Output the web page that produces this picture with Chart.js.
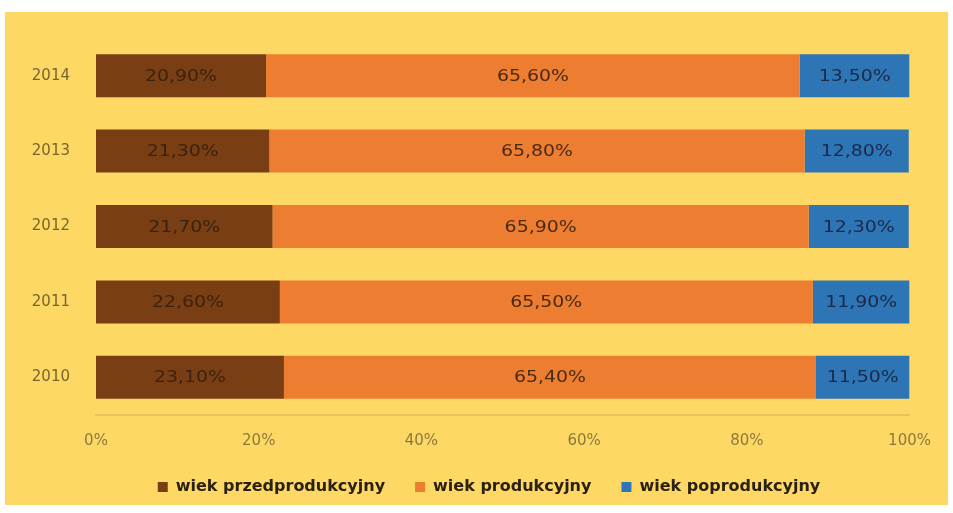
<!DOCTYPE html>
<html>
<head>
<meta charset="utf-8">
<script src="https://cdn.jsdelivr.net/npm/chart.js@4/dist/chart.umd.min.js"></script>
<style>
  body { margin: 0; background: #fff; }
  #outer { width: 953px; height: 513px; background: #fff; position: relative; }
  #panel { position: absolute; left: 5px; top: 12px; width: 943px; height: 493px; background: #fdd865; }
</style>
</head>
<body>
<div id="outer"><div id="panel"><canvas id="chart-area" width="943" height="493"></canvas></div></div>
<script>
var years = ["2014", "2013", "2012", "2011", "2010"];
var przed = [20.9, 21.3, 21.7, 22.6, 23.1];
var prod = [65.6, 65.8, 65.9, 65.5, 65.4];
var poprod = [13.5, 12.8, 12.3, 11.9, 11.5];
var xTicks = [0, 20, 40, 60, 80, 100];

var colors = {
    brown: '#7a3e14',
    orange: '#ed7d31',
    blue: '#2e75b6'
};

function fmt(v) {
    return v.toFixed(2).replace('.', ',') + '%';
}

// draws value labels in the middle of every bar (slightly widened like the original)
var barLabels = {
    id: 'barLabels',
    afterDatasetsDraw: function (chart) {
        var ctx = chart.ctx;
        chart.data.datasets.forEach(function (ds, i) {
            chart.getDatasetMeta(i).data.forEach(function (bar, j) {
                var x = (bar.x + bar.base) / 2;
                ctx.save();
                ctx.translate(x, bar.y);
                ctx.scale(1.18, 1);
                ctx.font = '16px "DejaVu Sans", sans-serif';
                ctx.textAlign = 'center';
                ctx.textBaseline = 'middle';
                ctx.fillStyle = ds.labelColor;
                ctx.fillText(fmt(ds.data[j]), 0, 1);
                ctx.restore();
            });
        });
    }
};

new Chart(document.getElementById("chart-area").getContext("2d"), {
    type: 'bar',
    data: {
        labels: years,
        datasets: [{
            label: 'wiek przedprodukcyjny',
            data: przed,
            backgroundColor: colors.brown,
            labelColor: '#3a2210'
        }, {
            label: 'wiek produkcyjny',
            data: prod,
            backgroundColor: colors.orange,
            labelColor: '#4a2a12'
        }, {
            label: 'wiek poprodukcyjny',
            data: poprod,
            backgroundColor: colors.blue,
            labelColor: '#1a2a48'
        }]
    },
    options: {
        indexAxis: 'y',
        responsive: false,
        animation: false,
        layout: { autoPadding: false, padding: { top: 26, right: 0, left: 25, bottom: 0 } },
        datasets: { bar: { categoryPercentage: 1, barPercentage: 0.57 } },
        scales: {
            x: {
                stacked: true,
                min: 0,
                max: 100,
                afterBuildTicks: function (axis) {
                    axis.ticks = xTicks.map(function (v) { return { value: v }; });
                },
                afterFit: function (axis) { axis.height = 34; },
                grid: { display: false, drawTicks: false },
                border: { display: true, color: '#e8c25a', width: 2 },
                ticks: {
                    padding: 17,
                    maxRotation: 0,
                    color: '#8c7a3a',
                    font: { family: '"DejaVu Sans", sans-serif', size: 15 },
                    callback: function (v) { return v + '%'; }
                }
            },
            y: {
                stacked: true,
                afterFit: function (axis) {
                    axis.width = 66;
                    // label padding should not push the bars down
                    axis.paddingTop = 0;
                    axis.paddingBottom = 0;
                },
                grid: { display: false, drawTicks: false },
                border: { display: false },
                ticks: {
                    padding: 26,
                    color: '#77662a',
                    font: { family: '"DejaVu Sans", sans-serif', size: 15 }
                }
            },
            // empty right-hand axis, only keeps space at the right of the bars
            yRight: {
                axis: 'y',
                type: 'linear',
                position: 'right',
                afterFit: function (axis) {
                    axis.width = 38;
                    axis.paddingTop = 0;
                    axis.paddingBottom = 0;
                },
                grid: { display: false, drawTicks: false },
                border: { display: false },
                ticks: { display: false }
            }
        },
        plugins: {
            tooltip: { enabled: false },
            legend: {
                position: 'bottom',
                labels: {
                    boxWidth: 10,
                    boxHeight: 10,
                    padding: 30,
                    color: '#2b2110',
                    font: { family: '"DejaVu Sans", sans-serif', size: 16, weight: 'bold' }
                }
            }
        }
    },
    plugins: [barLabels]
});
</script>
</body>
</html>
